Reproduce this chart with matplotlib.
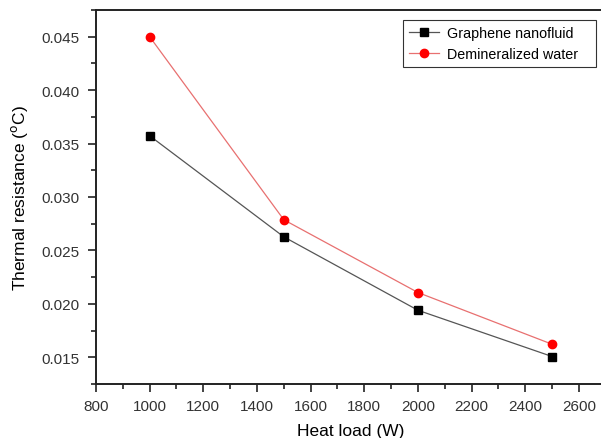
import matplotlib
matplotlib.use("Agg")
import matplotlib.pyplot as plt
from matplotlib.ticker import MultipleLocator

plt.rcParams['font.family'] = ['Liberation Sans', 'DejaVu Sans']

heat_load = [1000, 1500, 2000, 2500]
graphene = [0.03573, 0.02627, 0.0194, 0.01507]
water = [0.04500, 0.02787, 0.02106, 0.01622]

fig = plt.figure(figsize=(6.01, 4.39), dpi=100)
ax = fig.add_axes([0.1597, 0.123, 1.008 - 0.1597, 0.975 - 0.123])

ax.plot(heat_load, graphene, color='#555555', lw=0.9, marker='s', ms=5.2,
        mfc='black', mec='black', label='Graphene nanofluid')
ax.plot(heat_load, water, color='#e87070', lw=0.9, marker='o', ms=6,
        mfc='#ff0000', mec='#ff0000', label='Demineralized water')

ax.set_xlim(800, 2700)
ax.set_ylim(0.0125, 0.0475)
ax.xaxis.set_minor_locator(MultipleLocator(100))
ax.yaxis.set_minor_locator(MultipleLocator(0.0025))
ax.set_yticks([0.015, 0.020, 0.025, 0.030, 0.035, 0.040, 0.045])
ax.set_yticklabels(['0.015', '0.020', '0.025', '0.030', '0.035', '0.040', '0.045'])
ax.set_xticks([800, 1000, 1200, 1400, 1600, 1800, 2000, 2200, 2400, 2600])

for s in ['left', 'top', 'bottom', 'right']:
    ax.spines[s].set_linewidth(1.4)
    ax.spines[s].set_color('#222222')

ax.tick_params(which='major', direction='out', length=6, width=1.2,
               colors='#222222', labelcolor='#333333', labelsize=11)
ax.tick_params(which='minor', direction='out', length=3.5, width=1.2, colors='#222222')
ax.tick_params(axis='x', pad=5)
ax.tick_params(axis='y', pad=6)
ax.tick_params(top=False, right=False, which='both')

ax.set_xlabel('Heat load (W)', fontsize=12.5, labelpad=7)
ax.set_ylabel('Thermal resistance ($^{\\rm o}$C)', fontsize=12.5, labelpad=8)

leg = ax.legend(loc='upper left',
                bbox_to_anchor=(403/601, 1 - 69/439, 193/601, 48/439),
                bbox_transform=fig.transFigure, mode='expand',
                fontsize=10.3, frameon=True,
                fancybox=False, edgecolor='black', borderpad=0.45,
                handlelength=2.1, handletextpad=0.55, labelspacing=0.45,
                borderaxespad=0)
leg.get_frame().set_linewidth(0.8)

fig.savefig('out.png', dpi=100)
